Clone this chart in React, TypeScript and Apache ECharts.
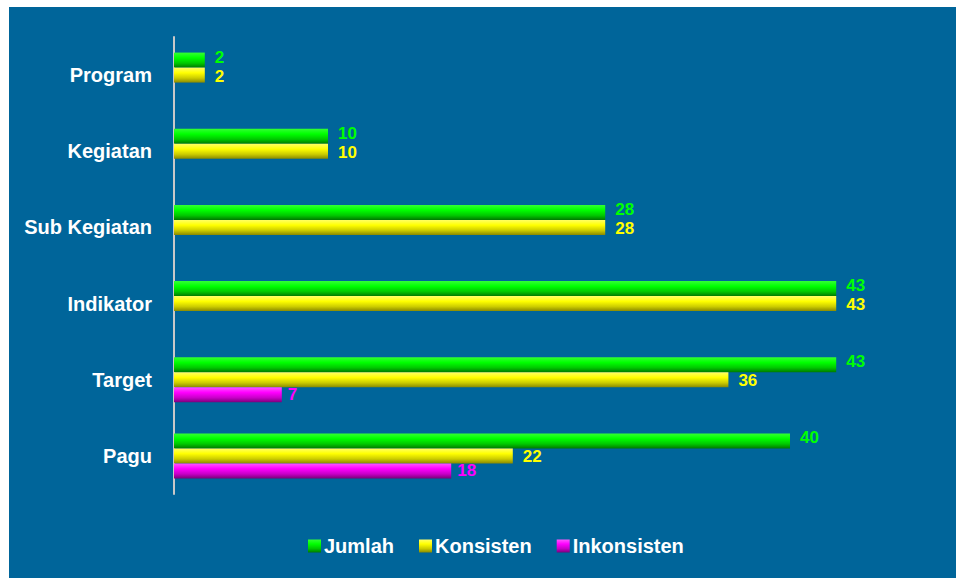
import React, { useEffect, useRef } from "react";
import * as echarts from "echarts";

const categories = ["Program", "Kegiatan", "Sub Kegiatan", "Indikator", "Target", "Pagu"];
const jumlah = [2, 10, 28, 43, 43, 40];
const konsisten = [2, 10, 28, 43, 36, 22];
const inkonsisten: (number | null)[] = [null, null, null, null, 7, 18];
const seriesNames = ["Jumlah", "Konsisten", "Inkonsisten"];

const FONT = "'Liberation Sans', Arial, sans-serif";

function grad(top: string, mid: string, low: string, bottom: string) {
  return new echarts.graphic.LinearGradient(0, 0, 0, 1, [
    { offset: 0, color: top },
    { offset: 0.35, color: mid },
    { offset: 0.7, color: low },
    { offset: 1, color: bottom },
  ]);
}

export default function App() {
  const ref = useRef<HTMLDivElement>(null);
  useEffect(() => {
    if (!ref.current) return;
    const chart = echarts.init(ref.current, undefined, { renderer: "svg" });
    const colors = ["#00ff00", "#ffff00", "#ff00ff"];
    const fills = [
      grad("#33ff33", "#00ff00", "#00c800", "#007a00"),
      grad("#ffff66", "#ffff00", "#cccc00", "#8a8a00"),
      grad("#ff55ff", "#ff00ff", "#c800c8", "#7a007a"),
    ];
    const datasets = [jumlah, konsisten, inkonsisten];
    const offsets = [[0, -3], [0, 1], [0, 0]];
    chart.setOption({
      animation: false,
      backgroundColor: "#00659A",
      grid: { left: 165, right: 12, top: 30, bottom: 84, containLabel: false, outerBoundsMode: "none" },
      xAxis: {
        type: "value",
        min: 0,
        max: 50,
        show: false,
      },
      yAxis: {
        type: "category",
        data: categories,
        inverse: true,
        axisLine: { show: true, lineStyle: { color: "#c8c8c8", width: 2 } },
        axisTick: { show: false },
        axisLabel: {
          color: "#ffffff",
          fontFamily: FONT,
          fontWeight: "bold",
          fontSize: 20,
          margin: 22,
        },
      },
      legend: {
        data: seriesNames,
        left: 294,
        top: 524,
        itemWidth: 13,
        itemHeight: 13,
        itemGap: 25,
        icon: "rect",
        textStyle: { color: "#ffffff", fontFamily: FONT, fontWeight: "bold", fontSize: 20, padding: [0, 0, 0, -2] },
      },
      series: seriesNames.map((name, i) => ({
        name,
        type: "bar",
        data: datasets[i],
        barWidth: 15,
        barGap: "0%",
        itemStyle: { color: fills[i] },
        label: {
          show: true,
          position: "right",
          distance: i === 2 ? 6 : 10,
          offset: offsets[i],
          color: colors[i],
          fontFamily: FONT,
          fontWeight: "bold",
          fontSize: 17,
          lineHeight: 15,
        },
      })),
    });
    return () => chart.dispose();
  }, []);
  return (
    <div style={{ position: "fixed", left: 0, top: 0, width: 957, height: 579, background: "#ffffff" }}>
      <div ref={ref} style={{ position: "absolute", left: 9, top: 7, width: 947, height: 571 }} />
    </div>
  );
}
